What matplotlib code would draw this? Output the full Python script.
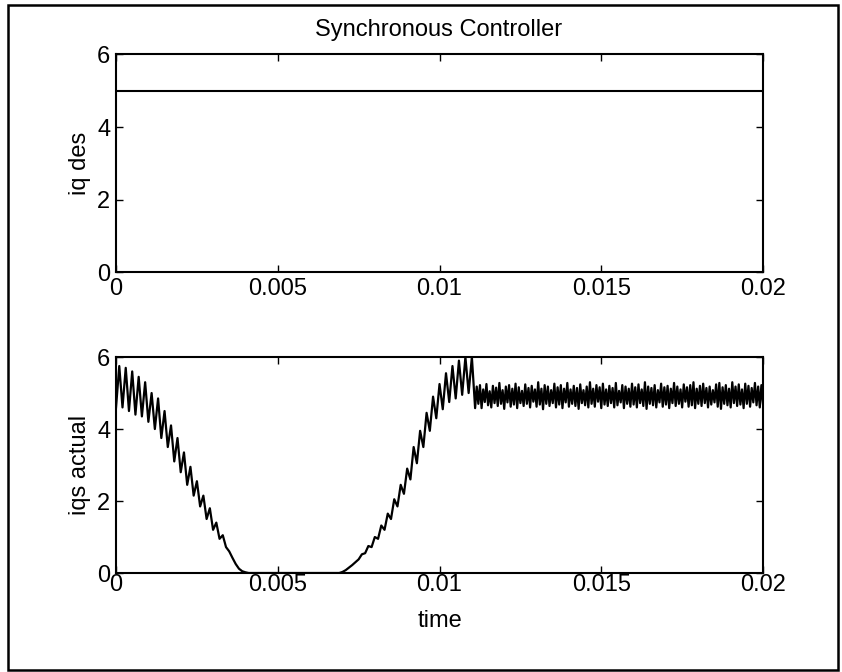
import numpy as np
import matplotlib
matplotlib.use("Agg")
import matplotlib.pyplot as plt
from matplotlib.patches import Rectangle

plt.rcParams['font.family'] = ['Liberation Sans', 'DejaVu Sans']

# desired current (top panel)
t_des = [0.0, 0.02]
iq_des = [5.0, 5.0]

# measured current, transient part, sampled every 0.1 ms from t = 0 to 0.011 s
dt_trans = 0.0001
iqs_trans = [
    4.6, 5.75, 4.6, 5.7, 4.5, 5.6, 4.4, 5.45, 4.35, 5.3,
    4.2, 5.0, 4.0, 4.85, 3.75, 4.5, 3.5, 4.1, 3.1, 3.75,
    2.8, 3.35, 2.45, 2.95, 2.15, 2.55, 1.85, 2.15, 1.5, 1.8,
    1.2, 1.4, 0.95, 1.05, 0.72, 0.6, 0.42, 0.25, 0.12, 0.05,
    0.02,
    0, 0, 0, 0, 0, 0, 0, 0, 0, 0,
    0, 0, 0, 0, 0, 0, 0, 0, 0, 0,
    0, 0, 0, 0, 0, 0, 0, 0, 0,
    0.03, 0.08, 0.15, 0.22, 0.3, 0.38, 0.52, 0.55, 0.75, 0.72,
    1.0, 0.95, 1.32, 1.2, 1.65, 1.5, 2.05, 1.85, 2.45, 2.2,
    2.9, 2.6, 3.5, 3.05, 3.95, 3.5, 4.45, 3.95, 4.9, 4.3,
    5.25, 4.55, 5.55, 4.75, 5.75, 4.85, 5.9, 4.95, 6.0, 5.0,
    6.0,
]

# measured current, steady part, sampled every 0.05 ms from t = 0.0111 s
t_steady_start = 0.0111
dt_steady = 0.00005
iqs_steady = [
    4.58, 5.18, 4.70, 5.22, 4.58, 5.10, 4.75, 5.25, 4.66, 5.05,
    4.60, 5.20, 4.72, 5.15, 4.64, 5.28, 4.70, 5.08, 4.56, 5.18,
    4.74, 5.22, 4.62, 5.12, 4.68, 5.26, 4.58, 5.16, 4.72, 5.06,
    4.64, 5.24, 4.70, 5.14, 4.60, 5.20, 4.76, 5.10, 4.62, 5.30,
    4.68, 5.12, 4.55, 5.22, 4.70, 5.18, 4.64, 5.08, 4.72, 5.26,
    4.60, 5.16, 4.68, 5.22, 4.58, 5.12, 4.74, 5.28, 4.62, 5.10,
    4.70, 5.20, 4.64, 5.14, 4.56, 5.24, 4.72, 5.08, 4.66, 5.18,
    4.60, 5.30, 4.70, 5.12, 4.62, 5.22, 4.76, 5.16, 4.58, 5.26,
    4.68, 5.10, 4.64, 5.20, 4.72, 5.14, 4.60, 5.28, 4.66, 5.06,
    4.74, 5.22, 4.58, 5.18, 4.70, 5.12, 4.62, 5.26, 4.68, 5.16,
    4.60, 5.24, 4.72, 5.10, 4.64, 5.30, 4.56, 5.18, 4.70, 5.14,
    4.66, 5.22, 4.60, 5.08, 4.74, 5.26, 4.62, 5.16, 4.68, 5.20,
    4.58, 5.12, 4.72, 5.28, 4.64, 5.18, 4.70, 5.10, 4.60, 5.24,
    4.76, 5.16, 4.62, 5.22, 4.66, 5.30, 4.58, 5.12, 4.70, 5.20,
    4.64, 5.26, 4.72, 5.14, 4.60, 5.18, 4.68, 5.08, 4.74, 5.24,
    4.62, 5.28, 4.56, 5.16, 4.70, 5.22, 4.66, 5.12, 4.60, 5.30,
    4.72, 5.18, 4.64, 5.24, 4.68, 5.10, 4.58, 5.26, 4.70, 5.20,
    4.62, 5.14, 4.74, 5.28, 4.66, 5.18, 4.60, 5.22, 4.70,
]

xticks = [0, 0.005, 0.01, 0.015, 0.02]
xticklabels = ["0", "0.005", "0.01", "0.015", "0.02"]
yticks = [0, 2, 4, 6]

t_trans = np.arange(len(iqs_trans)) * dt_trans
t_steady = t_steady_start + np.arange(len(iqs_steady)) * dt_steady
t_act = np.concatenate([t_trans, t_steady])
iqs_act = np.concatenate([iqs_trans, iqs_steady])

fig = plt.figure(figsize=(8.42, 6.72), dpi=100)

# scanned-page frame around the figure
fig.patches.append(Rectangle((8 / 842, 1 - 670 / 672), 830 / 842, 665 / 672,
                             transform=fig.transFigure, fill=False,
                             edgecolor="black", linewidth=1.8))

ax1 = fig.add_axes([0.1378, 0.5952, 0.7684, 0.3237])
ax2 = fig.add_axes([0.1378, 0.1473, 0.7684, 0.3214])

ax1.plot(t_des, iq_des, color="black", linewidth=1.5)
ax2.plot(t_act, iqs_act, color="black", linewidth=1.6)

for ax in (ax1, ax2):
    ax.set_xlim(0, 0.02)
    ax.set_ylim(0, 6)
    ax.set_xticks(xticks)
    ax.set_xticklabels(xticklabels)
    ax.set_yticks(yticks)
    ax.tick_params(direction="in", length=5, width=1.0, top=True, right=True,
                   labelsize=17)
    ax.tick_params(axis="y", pad=4)
    for s in ax.spines.values():
        s.set_linewidth(1.5)

ax1.tick_params(axis="x", pad=4)
ax2.tick_params(axis="x", pad=1)

ax1.set_ylabel("iq des", fontsize=17)
ax1.yaxis.set_label_coords(-0.039, 0.5)
ax2.set_ylabel("iqs actual", fontsize=17)
ax2.yaxis.set_label_coords(-0.039, 0.5)
ax2.set_xlabel("time", fontsize=17)
ax2.xaxis.set_label_coords(0.5, -0.17)

fig.text(0.5205, 1 - 30 / 672, "Synchronous Controller", fontsize=17,
         ha="center", va="center")

plt.savefig("out.png", dpi=100)
